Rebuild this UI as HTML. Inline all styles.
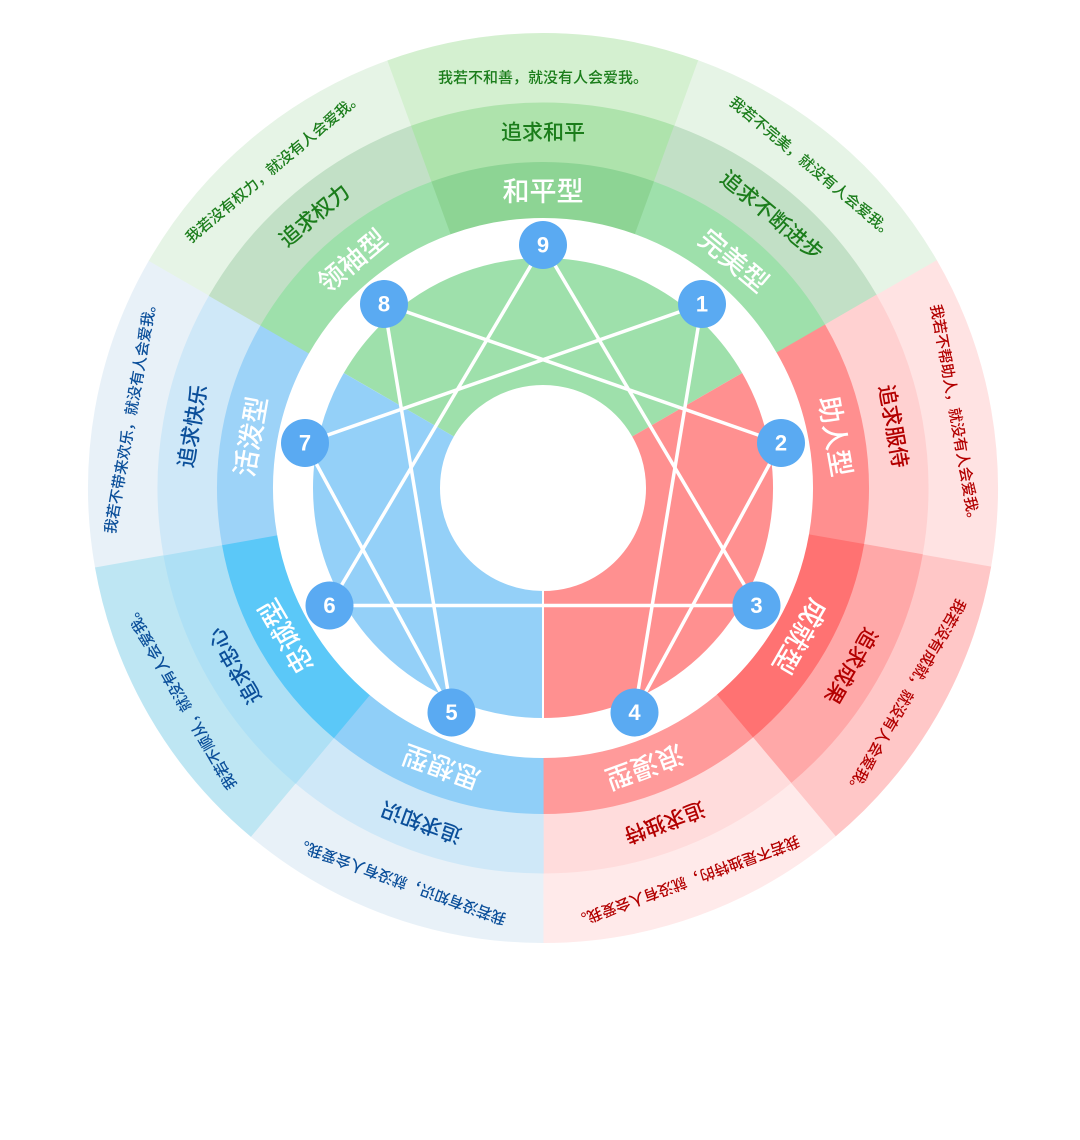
<!DOCTYPE html>
<html><head><meta charset="utf-8"><style>
html,body{margin:0;padding:0;background:#fff;width:1080px;height:1140px;overflow:hidden}
svg{display:block}
text{font-family:"Liberation Sans","Noto Sans CJK SC",sans-serif;text-anchor:middle;dominant-baseline:central}
.o{font-size:15px;font-weight:500}
.m{font-size:21px;font-weight:500}
.i{font-size:27px;font-weight:500;fill:#fff}
.g{fill:#1b7d1b}.r{fill:#b30000}.b{fill:#0b4f9a}
.n{font-size:22px;font-weight:bold;fill:#fff}
</style></head><body>
<svg width="1080" height="1140" viewBox="0 0 1080 1140">
<g transform="translate(543,488)">
<g fill="none" stroke-width="70">
<circle r="420" pathLength="360" stroke-dasharray="40 320" transform="rotate(250)" stroke="#d4f0d0"/>
<circle r="420" pathLength="360" stroke-dasharray="40 320" transform="rotate(290)" stroke="#e6f4e6"/>
<circle r="420" pathLength="360" stroke-dasharray="40 320" transform="rotate(330)" stroke="#ffe3e3"/>
<circle r="420" pathLength="360" stroke-dasharray="40 320" transform="rotate(10)" stroke="#ffc7c7"/>
<circle r="420" pathLength="360" stroke-dasharray="40 320" transform="rotate(50)" stroke="#ffeaea"/>
<circle r="420" pathLength="360" stroke-dasharray="40 320" transform="rotate(90)" stroke="#e8f1f8"/>
<circle r="420" pathLength="360" stroke-dasharray="40 320" transform="rotate(130)" stroke="#bee6f3"/>
<circle r="420" pathLength="360" stroke-dasharray="40 320" transform="rotate(170)" stroke="#e8f1f8"/>
<circle r="420" pathLength="360" stroke-dasharray="40 320" transform="rotate(210)" stroke="#e6f4e6"/>
</g>
<g fill="none" stroke-width="60">
<circle r="355.5" pathLength="360" stroke-dasharray="40 320" transform="rotate(250)" stroke="#aee3ac"/>
<circle r="355.5" pathLength="360" stroke-dasharray="40 320" transform="rotate(290)" stroke="#c2e0c6"/>
<circle r="355.5" pathLength="360" stroke-dasharray="40 320" transform="rotate(330)" stroke="#ffd1d1"/>
<circle r="355.5" pathLength="360" stroke-dasharray="40 320" transform="rotate(10)" stroke="#ffa8a8"/>
<circle r="355.5" pathLength="360" stroke-dasharray="40 320" transform="rotate(50)" stroke="#ffdcdc"/>
<circle r="355.5" pathLength="360" stroke-dasharray="40 320" transform="rotate(90)" stroke="#cfe8f8"/>
<circle r="355.5" pathLength="360" stroke-dasharray="40 320" transform="rotate(130)" stroke="#aee0f5"/>
<circle r="355.5" pathLength="360" stroke-dasharray="40 320" transform="rotate(170)" stroke="#cfe8f8"/>
<circle r="355.5" pathLength="360" stroke-dasharray="40 320" transform="rotate(210)" stroke="#c2e0c6"/>
</g>
<g fill="none" stroke-width="56">
<circle r="298" pathLength="360" stroke-dasharray="40 320" transform="rotate(250)" stroke="#8dd494"/>
<circle r="298" pathLength="360" stroke-dasharray="40 320" transform="rotate(290)" stroke="#9ee0ab"/>
<circle r="298" pathLength="360" stroke-dasharray="40 320" transform="rotate(330)" stroke="#ff8f8f"/>
<circle r="298" pathLength="360" stroke-dasharray="40 320" transform="rotate(10)" stroke="#ff7272"/>
<circle r="298" pathLength="360" stroke-dasharray="40 320" transform="rotate(50)" stroke="#ff9a9a"/>
<circle r="298" pathLength="360" stroke-dasharray="40 320" transform="rotate(90)" stroke="#90cff8"/>
<circle r="298" pathLength="360" stroke-dasharray="40 320" transform="rotate(130)" stroke="#5bc8f8"/>
<circle r="298" pathLength="360" stroke-dasharray="40 320" transform="rotate(170)" stroke="#9dd3f8"/>
<circle r="298" pathLength="360" stroke-dasharray="40 320" transform="rotate(210)" stroke="#9ee0ab"/>
</g>
<g fill="none" stroke-width="127">
<circle r="166.5" pathLength="360" stroke-dasharray="120 240" transform="rotate(210)" stroke="#9ee0ab"/>
<circle r="166.5" pathLength="360" stroke-dasharray="120 240" transform="rotate(330)" stroke="#ff9090"/>
<circle r="166.5" pathLength="360" stroke-dasharray="120 240" transform="rotate(90)" stroke="#94d0f8"/>
</g>
<line x1="0" y1="103" x2="0" y2="231" stroke="#fff" stroke-width="2"/>
<g stroke="#fff" stroke-width="3.5" fill="none">
<polyline points="159,-184 91.5,224.5 238,-45 -159,-184 -91.5,224.5 -238,-45 159,-184"/>
<polygon points="213.5,117.5 -213.5,117.5 0,-243"/>
</g>
<g fill="#5aaaf2">
<circle cx="0" cy="-243" r="24"/><circle cx="159" cy="-184" r="24"/><circle cx="238" cy="-45" r="24"/>
<circle cx="213.5" cy="117.5" r="24"/><circle cx="91.5" cy="224.5" r="24"/><circle cx="-91.5" cy="224.5" r="24"/>
<circle cx="-213.5" cy="117.5" r="24"/><circle cx="-238" cy="-45" r="24"/><circle cx="-159" cy="-184" r="24"/>
</g>
<g class="n">
<text x="0" y="-243">9</text><text x="159" y="-184">1</text><text x="238" y="-45">2</text>
<text x="213.5" y="117.5">3</text><text x="91.5" y="224.5">4</text><text x="-91.5" y="224.5">5</text>
<text x="-213.5" y="117.5">6</text><text x="-238" y="-45">7</text><text x="-159" y="-184">8</text>
</g>
<g transform="rotate(0)"><text class="i" y="-296">和平型</text><text class="m g" y="-355">追求和平</text><text class="o g" y="-410">我若不和善，就没有人会爱我。</text></g>
<g transform="rotate(40)"><text class="i" y="-296">完美型</text><text class="m g" y="-355">追求不断进步</text><text class="o g" y="-418">我若不完美，就没有人会爱我。</text></g>
<g transform="rotate(80)"><text class="i" y="-296">助人型</text><text class="m r" y="-355">追求服侍</text><text class="o r" y="-418">我若不帮助人，就没有人会爱我。</text></g>
<g transform="rotate(120)"><text class="i" y="-296">成就型</text><text class="m r" y="-355">追求成果</text><text class="o r" y="-418">我若没有成就，就没有人会爱我。</text></g>
<g transform="rotate(160)"><text class="i" y="-296">浪漫型</text><text class="m r" y="-355">追求独特</text><text class="o r" y="-418">我若不是独特的，就没有人会爱我。</text></g>
<g transform="rotate(200)"><text class="i" y="-296">思想型</text><text class="m b" y="-355">追求知识</text><text class="o b" y="-418">我若没有知识，就没有人会爱我。</text></g>
<g transform="rotate(240)"><text class="i" y="-296">忠诚型</text><text class="m b" y="-355">追求忠心</text><text class="o b" y="-418">我若不顺从，就没有人会爱我。</text></g>
<g transform="rotate(280)"><text class="i" y="-296">活泼型</text><text class="m b" y="-355">追求快乐</text><text class="o b" y="-418">我若不带来欢乐，就没有人会爱我。</text></g>
<g transform="rotate(320)"><text class="i" y="-296">领袖型</text><text class="m g" y="-355">追求权力</text><text class="o g" y="-418">我若没有权力，就没有人会爱我。</text></g>
</g>
</svg>
</body></html>
